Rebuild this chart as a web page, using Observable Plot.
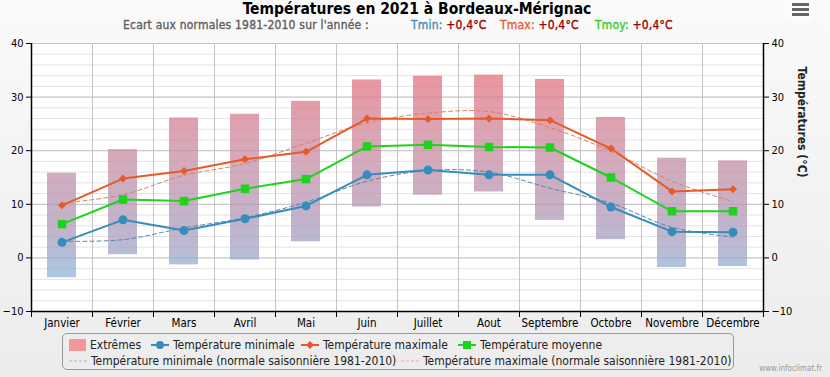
<!DOCTYPE html>
<html>
<head>
<meta charset="utf-8">
<script src="https://cdn.jsdelivr.net/npm/d3@7"></script>
<script src="https://cdn.jsdelivr.net/npm/@observablehq/plot@0.6"></script>
<style>
  html, body { margin: 0; padding: 0; }
  body { width: 830px; height: 377px; overflow: hidden; background: linear-gradient(#fafafa, #ececec); font-family: "DejaVu Sans Condensed", "DejaVu Sans", sans-serif; position: relative; }
  #title { position: absolute; left: 0; width: 834px; top: 1px; text-align: center; font-weight: bold; font-size: 15.5px; line-height: 17px; color: #000; white-space: nowrap; }
  #subtitle { position: absolute; left: 123px; top: 19px; font-size: 12px; line-height: 13px; color: #606060; white-space: nowrap; letter-spacing: 0.2px; -webkit-text-stroke: 0.35px #606060; }
  #chart { position: absolute; left: 0; top: 0; }
  #legend { position: absolute; left: 62px; top: 333px; width: 672px; height: 37px; border: 1px solid #999; border-radius: 5px; box-sizing: border-box; font-size: 12px; color: #222; }
  .item { position: absolute; white-space: nowrap; display: flex; align-items: center; }
  .item svg { margin-right: 4px; }
  #menu { position: absolute; left: 785px; top: 0; width: 28px; height: 20px; background: #fdfdfd; }
  #menu div { position: absolute; left: 7px; width: 17px; height: 3px; background: #666; }
  #credits { position: absolute; right: 8px; top: 364px; font-size: 8px; line-height: 10px; color: #999; }
</style>
</head>
<body>
<div id="chart"></div>
<div id="title">Températures en 2021 à Bordeaux-Mérignac</div>
<div id="subtitle"></div>
<div id="legend"></div>
<div id="menu"><div style="top:3px"></div><div style="top:8px"></div><div style="top:13px"></div></div>
<div id="credits">www.infoclimat.fr</div>
<script>
const months = ["Janvier","Février","Mars","Avril","Mai","Juin","Juillet","Aout","Septembre","Octobre","Novembre","Décembre"];
const tmin = [2.9, 7.1, 5.1, 7.3, 9.7, 15.5, 16.4, 15.5, 15.5, 9.5, 4.9, 4.8];
const tmax = [9.8, 14.8, 16.2, 18.4, 19.8, 26.0, 25.9, 26.0, 25.7, 20.4, 12.4, 12.8];
const tmoy = [6.3, 10.9, 10.6, 12.9, 14.7, 20.8, 21.1, 20.7, 20.6, 15.0, 8.7, 8.7];
const normMin = [3.1, 3.4, 5.6, 7.5, 10.4, 14.3, 16.3, 16.0, 13.0, 10.2, 5.7, 3.9];
const normMax = [10.2, 11.8, 15.4, 17.6, 21.4, 25.2, 27.0, 27.3, 24.3, 19.9, 14.3, 10.5];
const extLow = [-3.7, 0.6, -1.3, -0.4, 3.0, 9.5, 11.7, 12.3, 7.0, 3.4, -1.8, -1.6];
const extHigh = [15.8, 20.2, 26.1, 26.8, 29.2, 33.2, 33.9, 34.1, 33.3, 26.2, 18.6, 18.1];
const yTicks = [-10, 0, 10, 20, 30, 40];
const yMinor = d3.range(-10, 41, 2);
const yLabel = "Températures (°C)";
const ecart = {Tmin: "+0,4°C", Tmax: "+0,4°C", Tmoy: "+0,4°C"};

const C = {min: "#378cbe", max: "#e65a28", moy: "#1ed21e", nmin: "#5583ab", nmax: "#d9805f"};

const rows = months.map((m, i) => ({month: m, tmin: tmin[i], tmax: tmax[i], tmoy: tmoy[i], nmin: normMin[i], nmax: normMax[i], lo: extLow[i], hi: extHigh[i]}));

const plot = Plot.plot({
  width: 830,
  height: 332,
  marginLeft: 31,
  marginRight: 67,
  marginTop: 43,
  marginBottom: 21,
  style: {fontFamily: '"DejaVu Sans Condensed", "DejaVu Sans", sans-serif', fontSize: "11px", color: "#000", background: "transparent", overflow: "visible"},
  x: {type: "band", domain: months, padding: 0, axis: null},
  y: {domain: [-10, 40], axis: null},
  marks: [
    Plot.frame({fill: "white", stroke: "none"}),
    Plot.ruleY(yMinor, {stroke: "#e3e3e3", strokeWidth: 1}),
    Plot.ruleY(yTicks, {stroke: "#c4c4c4", strokeWidth: 1}),
    Plot.ruleX(months.slice(1), {stroke: "#c4c4c4", strokeWidth: 1, dx: -30.5}),
    Plot.barY(rows, {x: "month", y1: "lo", y2: "hi", fill: "url(#extGrad)", fillOpacity: 0.75, insetLeft: 16, insetRight: 16}),
    Plot.line(rows, {x: "month", y: "nmin", stroke: C.nmin, strokeWidth: 1, strokeDasharray: "4,3", curve: "catmull-rom"}),
    Plot.line(rows, {x: "month", y: "nmax", stroke: C.nmax, strokeWidth: 1, strokeDasharray: "4,3", curve: "catmull-rom"}),
    Plot.line(rows, {x: "month", y: "tmax", stroke: C.max, strokeWidth: 2}),
    Plot.dot(rows, {x: "month", y: "tmax", fill: C.max, symbol: "diamond2", r: 3.6, stroke: null}),
    Plot.line(rows, {x: "month", y: "tmin", stroke: C.min, strokeWidth: 2}),
    Plot.dot(rows, {x: "month", y: "tmin", fill: C.min, r: 4.5, stroke: null}),
    Plot.line(rows, {x: "month", y: "tmoy", stroke: C.moy, strokeWidth: 2}),
    Plot.dot(rows, {x: "month", y: "tmoy", fill: C.moy, symbol: "square", r: 4.8, stroke: null}),
    Plot.ruleX([months[0]], {stroke: "#000", strokeWidth: 1.5, dx: -30.5}),
    Plot.ruleX([months[11]], {stroke: "#000", strokeWidth: 1.5, dx: 30.5}),
    Plot.ruleY([-10], {stroke: "#000", strokeWidth: 1.5}),
    Plot.axisY({ticks: yTicks, anchor: "left", tickSize: 5, tickPadding: 3, label: null, fontSize: 11, stroke: "#000"}),
    Plot.axisY({ticks: yTicks, anchor: "right", tickSize: 5, tickPadding: 3, label: null, fontSize: 11, stroke: "#000"}),
    Plot.axisX({anchor: "bottom", tickSize: 0, tickPadding: 7, label: null, fontSize: 11.5}),
    Plot.axisX({anchor: "bottom", tickSize: 6, tickFormat: () => "", label: null, dx: -30.5, stroke: "#000"}),
    Plot.axisX({anchor: "bottom", ticks: [months[11]], tickSize: 6, tickFormat: () => "", label: null, dx: 30.5, stroke: "#000"}),
    Plot.text([yLabel], {frameAnchor: "right", rotate: 90, dx: 38, fontWeight: "bold", fontSize: 12, fill: "#222"})
  ]
});

// vertical gradient for the extremes bars, in plot coordinates
const ys = plot.scale("y");
const svgNS = "http://www.w3.org/2000/svg";
const defs = document.createElementNS(svgNS, "defs");
const grad = document.createElementNS(svgNS, "linearGradient");
grad.setAttribute("id", "extGrad");
grad.setAttribute("gradientUnits", "userSpaceOnUse");
grad.setAttribute("x1", 0); grad.setAttribute("x2", 0);
grad.setAttribute("y1", ys.apply(40)); grad.setAttribute("y2", ys.apply(-10));
[[0, "#e6707b"], [0.1, "#e6707b"], [0.4, "#ca8ba2"], [0.6, "#b696b3"], [0.74, "#a6a0c0"], [0.86, "#90b3d7"], [1, "#88b0da"]].forEach(([o, c]) => {
  const s = document.createElementNS(svgNS, "stop");
  s.setAttribute("offset", o); s.setAttribute("stop-color", c);
  grad.appendChild(s);
});
defs.appendChild(grad);
plot.insertBefore(defs, plot.firstChild);
document.getElementById("chart").appendChild(plot);

// subtitle
const sub = document.getElementById("subtitle");
const st = c => `color:${c};-webkit-text-stroke:0.35px ${c}`;
sub.innerHTML = `Ecart aux normales 1981-2010 sur l'année :` +
  `<span style="position:absolute;left:288px;${st("#4a8db5")}">Tmin: <span style="${st("#a00000")}">${ecart.Tmin}</span></span>` +
  `<span style="position:absolute;left:377px;${st("#e0603a")}">Tmax: <span style="${st("#a00000")}">${ecart.Tmax}</span></span>` +
  `<span style="position:absolute;left:472px;${st("#33cc33")}">Tmoy: <span style="${st("#a00000")}">${ecart.Tmoy}</span></span>`;

// legend
const legend = document.getElementById("legend");
const icon = (type, color) => {
  if (type === "rect") return `<svg width="17" height="12"><rect x="0" y="0" width="17" height="12" fill="#f4979b"/></svg>`;
  if (type === "dash") return `<svg width="18" height="10"><line x1="0" y1="5" x2="18" y2="5" stroke="${color}" stroke-width="1" stroke-dasharray="3,2"/></svg>`;
  let marker = "";
  if (type === "circle") marker = `<circle cx="9" cy="6" r="4" fill="${color}"/>`;
  if (type === "diamond") marker = `<path d="M9 2 L13 6 L9 10 L5 6 Z" fill="${color}"/>`;
  if (type === "square") marker = `<rect x="5" y="2" width="8" height="8" fill="${color}"/>`;
  return `<svg width="18" height="12"><line x1="0" y1="6" x2="18" y2="6" stroke="${color}" stroke-width="2"/>${marker}</svg>`;
};
const items = [
  {label: "Extrêmes", type: "rect", color: "", left: 6, top: 4},
  {label: "Température minimale", type: "circle", color: C.min, left: 88, top: 4},
  {label: "Température maximale", type: "diamond", color: C.max, left: 238, top: 4},
  {label: "Température moyenne", type: "square", color: C.moy, left: 395, top: 4},
  {label: "Température minimale (normale saisonnière 1981-2010)", type: "dash", color: "#9fb9cf", left: 6, top: 20},
  {label: "Température maximale (normale saisonnière 1981-2010)", type: "dash", color: "#efa98f", left: 338, top: 20}
];
legend.innerHTML = items.map(it => `<div class="item" style="left:${it.left}px;top:${it.top}px">${icon(it.type, it.color)}<span>${it.label}</span></div>`).join("");
</script>
</body>
</html>
